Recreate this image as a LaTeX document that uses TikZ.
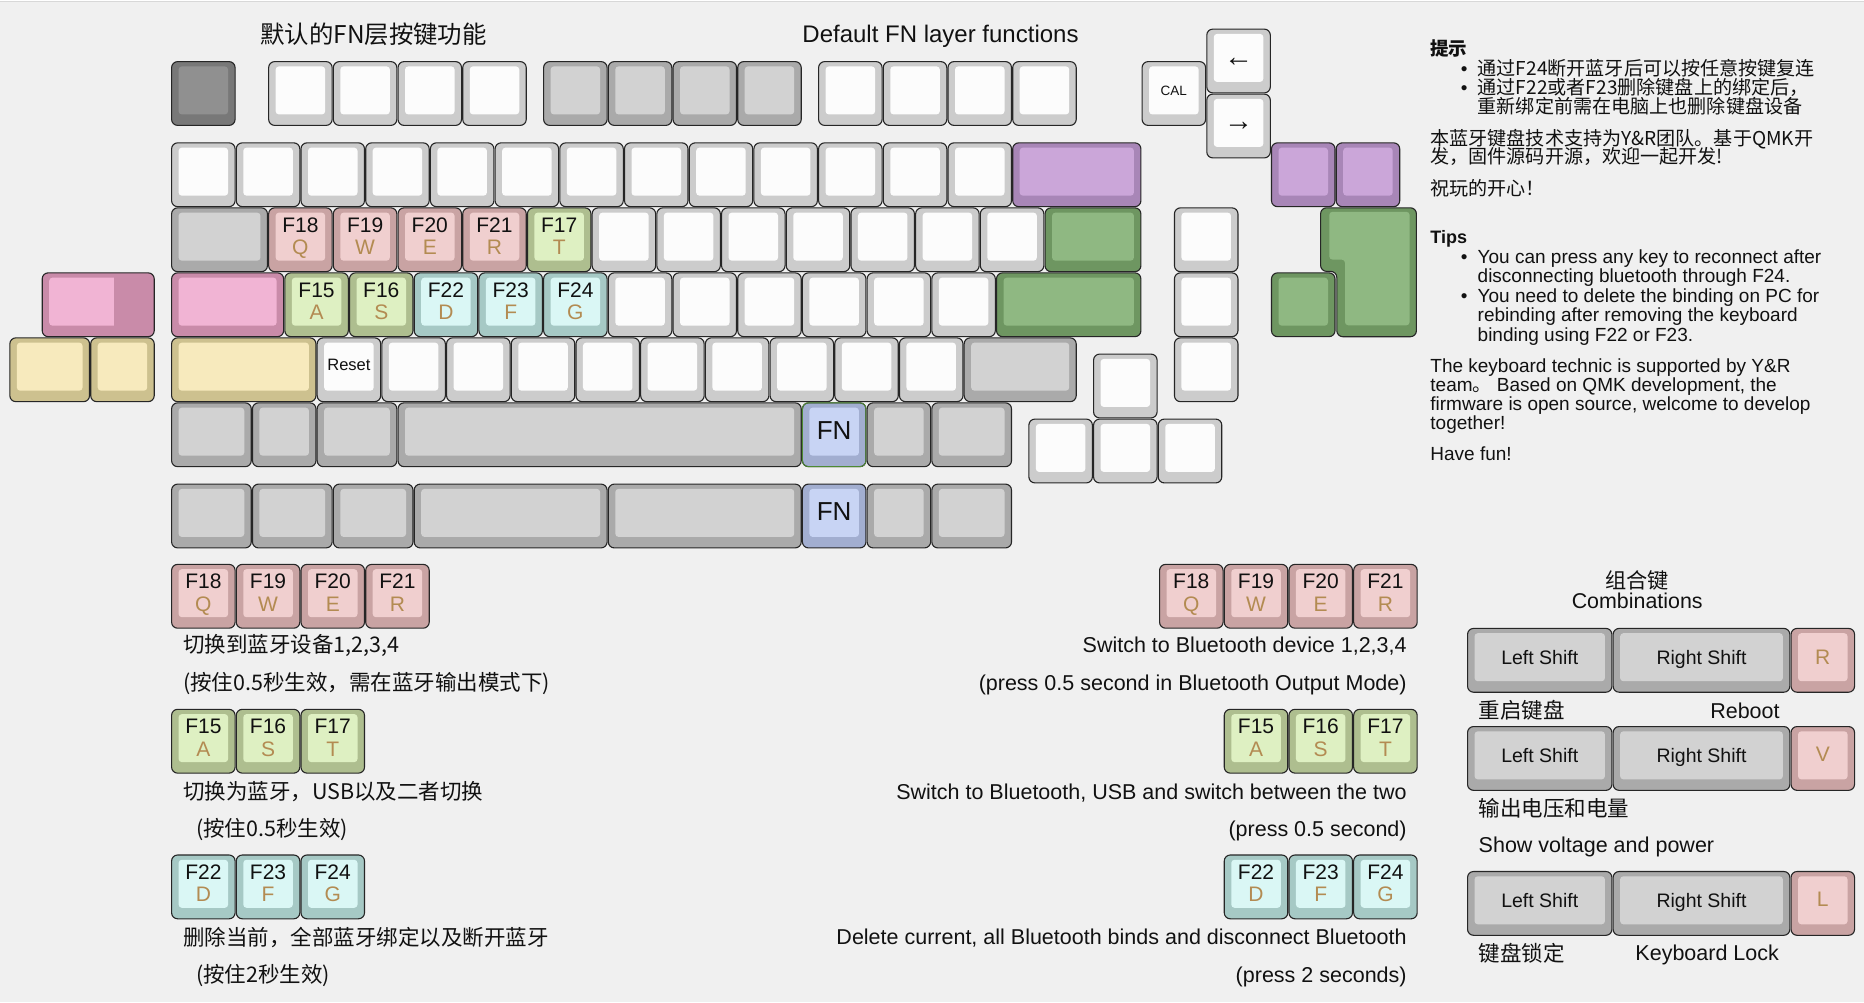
\documentclass[tikz,border=0pt]{standalone}
\usepackage{fontspec}
\setmainfont{Liberation Sans}
\newfontfamily\cjk{Noto Sans CJK SC}
\newcommand{\fsz}[1]{\fontsize{#1pt}{#1pt}\selectfont}
\definecolor{bg}{HTML}{F0F0F0}
\definecolor{topln}{HTML}{D8D8D8}
\definecolor{keyline}{HTML}{262626}
\definecolor{txt}{HTML}{111111}
\definecolor{lgd}{HTML}{B38B52}
\definecolor{wS}{HTML}{CCCCCC}\definecolor{wF}{HTML}{FCFCFC}
\definecolor{gS}{HTML}{AAAAAA}\definecolor{gF}{HTML}{D2D2D2}
\definecolor{dS}{HTML}{787878}\definecolor{dF}{HTML}{909090}
\definecolor{pS}{HTML}{C9A3A3}\definecolor{pF}{HTML}{F0CFCF}
\definecolor{lS}{HTML}{AEBE8F}\definecolor{lF}{HTML}{DEF0C2}
\definecolor{cS}{HTML}{A6C9C5}\definecolor{cF}{HTML}{DAF7F5}
\definecolor{vS}{HTML}{A886B7}\definecolor{vF}{HTML}{CBA6D9}
\definecolor{eS}{HTML}{6E9661}\definecolor{eF}{HTML}{8FB882}
\definecolor{kS}{HTML}{C98BA9}\definecolor{kF}{HTML}{F1B4D4}
\definecolor{yS}{HTML}{CDC18F}\definecolor{yF}{HTML}{F7EABD}
\definecolor{bS}{HTML}{A2AED0}\definecolor{bF}{HTML}{C8D4F4}
\definecolor{fnline}{HTML}{4E8A34}
\tikzset{
  keyouter/.style={draw=keyline, line width=0.55pt, rounded corners=3pt, inner sep=0pt, outer sep=0pt},
  lgtop/.style={anchor=base, inner sep=0pt, text=txt, font={\fsz{10.5}}},
  lgbot/.style={anchor=base, inner sep=0pt, text=lgd, font={\fsz{10.5}}},
  lgfn/.style={anchor=base, inner sep=0pt, text=txt, font={\fsz{13}}},
  lgsmall/.style={anchor=base, inner sep=0pt, text=txt, font={\fsz{6.75}}},
  lgreset/.style={anchor=base, inner sep=0pt, text=txt, font={\fsz{8.25}}},
  lgarrow/.style={anchor=base, inner sep=0pt, text=txt, font={\fsz{14.5}}},
  lgshift/.style={anchor=base, inner sep=0pt, text=txt, font={\fsz{9.75}}},
  lgletter/.style={anchor=base, inner sep=0pt, text=lgd, font={\fsz{10.5}}},
  cjkt/.style={inner sep=0pt, text=txt, font={\cjk\fsz{10.75}}},
  ent/.style={inner sep=0pt, text=txt, font={\fsz{10.75}}},
  note/.style={inner sep=0pt, text=txt, font={\fsz{9.5}}, anchor=base west},
  cnote/.style={inner sep=0pt, text=txt, font={\cjk\fsz{9.55}}, anchor=base west},
  bul/.style={inner sep=0pt, text=txt, font={\fsz{9.5}}, anchor=base},
}
\newcommand{\keyshape}[6]{%
  \pgfmathsetmacro{\kx}{171+(#2)*64.7+0.6}%
  \pgfmathsetmacro{\ky}{61+(#3)*65+0.6}%
  \pgfmathsetmacro{\kw}{(#4)*64.7-1.2}%
  \pgfmathsetmacro{\kh}{(#5)*65-1.2}%
  \pgfmathsetmacro{\kwp}{\kw/2}%
  \pgfmathsetmacro{\khp}{\kh/2}%
  \node[keyouter, fill=#6S, minimum width=\kwp pt, minimum height=\khp pt, anchor=north west] (#1) at (\kx,\ky) {};%
  \fill[#6F, rounded corners=1.6pt] (\kx+7,\ky+4.8) rectangle (\kx+\kw-7,\ky+\kh-11);%
}
\newcommand{\KK}[8]{\keyshape{#1}{#2}{#3}{#4}{#5}{#6}%
  \node[lgtop] (#1-t) at (\kx+\kw/2,\ky+24.2) {#7};%
  \node[lgbot] (#1-b) at (\kx+\kw/2,\ky+46.8) {#8};}
\newcommand{\KC}[9]{\keyshape{#1}{#2}{#3}{#4}{#5}{#6}%
  \node[#8] (#1-t) at (\kx+\kw/2,\ky+#7) {#9};}
\begin{document}
\begin{tikzpicture}[x=0.5pt,y=-0.5pt]
\useasboundingbox (0,0) rectangle (1864,1002);
\fill[bg] (0,0) rectangle (1864,1002);
\fill[white] (0,0) rectangle (1864,1.5);
\draw[topln, line width=0.5pt] (0,1.8) -- (1864,1.8);
% titles
\node[inner sep=0pt, anchor=base, text=txt, font={\cjk\fsz{12.2}}] (title1) at (373.5,43) {默认的FN层按键功能};
\node[inner sep=0pt, anchor=base, text=txt, font={\fsz{12}}] (title2) at (940.5,42) {Default FN layer functions};
% row 0
\keyshape{esc}{0}{0}{1}{1}{d}
\foreach \i [count=\c] in {1.5,2.5,3.5,4.5} {\keyshape{fa\c}{\i}{0}{1}{1}{w}}
\foreach \i [count=\c] in {5.75,6.75,7.75,8.75} {\keyshape{fb\c}{\i}{0}{1}{1}{g}}
\foreach \i [count=\c] in {10,11,12,13} {\keyshape{fc\c}{\i}{0}{1}{1}{w}}
\KC{cal}{15}{0}{1}{1}{w}{33.4}{lgsmall}{CAL}
\KC{larr}{16}{-0.5}{1}{1}{w}{37}{lgarrow}{←}
\KC{rarr}{16}{0.5}{1}{1}{w}{36.5}{lgarrow}{→}
% row 1
\foreach \i in {0,...,12} {\keyshape{num\i}{\i}{1.25}{1}{1}{w}}
\keyshape{bksp}{13}{1.25}{2}{1}{v}
\keyshape{pa}{17}{1.25}{1}{1}{v}
\keyshape{pb}{18}{1.25}{1}{1}{v}
% row 2
\keyshape{tab}{0}{2.25}{1.5}{1}{g}
\KK{kq}{1.5}{2.25}{1}{1}{p}{F18}{Q}
\KK{kw}{2.5}{2.25}{1}{1}{p}{F19}{W}
\KK{ke}{3.5}{2.25}{1}{1}{p}{F20}{E}
\KK{kr}{4.5}{2.25}{1}{1}{p}{F21}{R}
\KK{kt}{5.5}{2.25}{1}{1}{l}{F17}{T}
\foreach \i [count=\c] in {6.5,7.5,8.5,9.5,10.5,11.5,12.5} {\keyshape{qr\c}{\i}{2.25}{1}{1}{w}}
\keyshape{bsl}{13.5}{2.25}{1.5}{1}{e}
\keyshape{nava}{15.5}{2.25}{1}{1}{w}
% big L-shaped key
\draw[fill=eS, draw=keyline, line width=0.55pt, rounded corners=3pt]
  (1320.6,207.8) -- (1416.4,207.8) -- (1416.4,336.7) -- (1336.8,336.7) -- (1336.8,271.4) -- (1320.6,271.4) -- cycle;
\fill[eF, rounded corners=1.6pt]
  (1329.3,211.8) -- (1409.6,211.8) -- (1409.6,325.3) -- (1345,325.3) -- (1345,259.6) -- (1329.3,259.6) -- cycle;
\coordinate (isoenter) at (1368,272);
% row 3
\keyshape{caps}{0}{3.25}{1.75}{1}{k}
\keyshape{capsx}{-2}{3.25}{1.75}{1}{k}
\fill[kS] (\kx+72,\ky+4.3) rectangle (\kx+\kw-6.5,\ky+\kh-10.5);
\KK{ka}{1.75}{3.25}{1}{1}{l}{F15}{A}
\KK{ks}{2.75}{3.25}{1}{1}{l}{F16}{S}
\KK{kd}{3.75}{3.25}{1}{1}{c}{F22}{D}
\KK{kf}{4.75}{3.25}{1}{1}{c}{F23}{F}
\KK{kg}{5.75}{3.25}{1}{1}{c}{F24}{G}
\foreach \i [count=\c] in {6.75,7.75,8.75,9.75,10.75,11.75} {\keyshape{ar\c}{\i}{3.25}{1}{1}{w}}
\keyshape{ent}{12.75}{3.25}{2.25}{1}{e}
\keyshape{navb}{15.5}{3.25}{1}{1}{w}
\keyshape{ga}{17}{3.25}{1}{1}{e}
% row 4
\keyshape{lsh}{0}{4.25}{2.25}{1}{y}
\keyshape{ya}{-2.5}{4.25}{1.25}{1}{y}
\keyshape{yb}{-1.25}{4.25}{1}{1}{y}
\KC{reset}{2.25}{4.25}{1}{1}{w}{32.2}{lgreset}{Reset}
\foreach \i [count=\c] in {3.25,4.25,5.25,6.25,7.25,8.25,9.25,10.25,11.25} {\keyshape{zr\c}{\i}{4.25}{1}{1}{w}}
\keyshape{rsh}{12.25}{4.25}{1.75}{1}{g}
\keyshape{up}{14.25}{4.5}{1}{1}{w}
\keyshape{navc}{15.5}{4.25}{1}{1}{w}
% row 5
\keyshape{m1}{0}{5.25}{1.25}{1}{g}
\keyshape{m2}{1.25}{5.25}{1}{1}{g}
\keyshape{m3}{2.25}{5.25}{1.25}{1}{g}
\keyshape{spc}{3.5}{5.25}{6.25}{1}{g}
\KC{fna}{9.75}{5.25}{1}{1}{b}{36.8}{lgfn}{FN}
\draw[fnline, line width=0.45pt, rounded corners=3pt] (fna.north west) rectangle (fna.south east);
\keyshape{m5}{10.75}{5.25}{1}{1}{g}
\keyshape{m6}{11.75}{5.25}{1.25}{1}{g}
\keyshape{arl}{13.25}{5.5}{1}{1}{w}
\keyshape{ard}{14.25}{5.5}{1}{1}{w}
\keyshape{arr}{15.25}{5.5}{1}{1}{w}
% row 6.5
\keyshape{b1}{0}{6.5}{1.25}{1}{g}
\keyshape{b2}{1.25}{6.5}{1.25}{1}{g}
\keyshape{b3}{2.5}{6.5}{1.25}{1}{g}
\keyshape{b4}{3.75}{6.5}{3}{1}{g}
\keyshape{b5}{6.75}{6.5}{3}{1}{g}
\KC{fnb}{9.75}{6.5}{1}{1}{b}{36.3}{lgfn}{FN}
\keyshape{b6}{10.75}{6.5}{1}{1}{g}
\keyshape{b7}{11.75}{6.5}{1.25}{1}{g}
% bottom-left legend
\KK{la1}{0}{7.735}{1}{1}{p}{F18}{Q}
\KK{la2}{1}{7.735}{1}{1}{p}{F19}{W}
\KK{la3}{2}{7.735}{1}{1}{p}{F20}{E}
\KK{la4}{3}{7.735}{1}{1}{p}{F21}{R}
\KK{lb1}{0}{9.965}{1}{1}{l}{F15}{A}
\KK{lb2}{1}{9.965}{1}{1}{l}{F16}{S}
\KK{lb3}{2}{9.965}{1}{1}{l}{F17}{T}
\KK{lc1}{0}{12.206}{1}{1}{c}{F22}{D}
\KK{lc2}{1}{12.206}{1}{1}{c}{F23}{F}
\KK{lc3}{2}{12.206}{1}{1}{c}{F24}{G}
\node[cjkt, anchor=base west] (d1) at (182.7,652.5) {切换到蓝牙设备1,2,3,4};
\node[cjkt, anchor=base west] (d2) at (182.7,690.5) {(按住0.5秒生效，需在蓝牙输出模式下)};
\node[cjkt, anchor=base west] (d3) at (182.7,799) {切换为蓝牙，USB以及二者切换};
\node[cjkt, anchor=base west] (d4) at (195.7,836) {(按住0.5秒生效)};
\node[cjkt, anchor=base west] (d5) at (182.7,945) {删除当前，全部蓝牙绑定以及断开蓝牙};
\node[cjkt, anchor=base west] (d6) at (195.7,982) {(按住2秒生效)};
% bottom-right legend
\KK{ra1}{15.27}{7.735}{1}{1}{p}{F18}{Q}
\KK{ra2}{16.27}{7.735}{1}{1}{p}{F19}{W}
\KK{ra3}{17.27}{7.735}{1}{1}{p}{F20}{E}
\KK{ra4}{18.27}{7.735}{1}{1}{p}{F21}{R}
\KK{rb1}{16.27}{9.965}{1}{1}{l}{F15}{A}
\KK{rb2}{17.27}{9.965}{1}{1}{l}{F16}{S}
\KK{rb3}{18.27}{9.965}{1}{1}{l}{F17}{T}
\KK{rc1}{16.27}{12.206}{1}{1}{c}{F22}{D}
\KK{rc2}{17.27}{12.206}{1}{1}{c}{F23}{F}
\KK{rc3}{18.27}{12.206}{1}{1}{c}{F24}{G}
\node[ent, anchor=base east] (e1) at (1407,652.8) {Switch to Bluetooth device 1,2,3,4};
\node[ent, anchor=base east] (e2) at (1407,690) {(press 0.5 second in Bluetooth Output Mode)};
\node[ent, anchor=base east] (e3) at (1407,799) {Switch to Bluetooth, USB and switch between the two};
\node[ent, anchor=base east] (e4) at (1407,836) {(press 0.5 second)};
\node[ent, anchor=base east] (e5) at (1407,944) {Delete current, all Bluetooth binds and disconnect Bluetooth};
\node[ent, anchor=base east] (e6) at (1407,982) {(press 2 seconds)};
% combinations
\node[inner sep=0pt, anchor=base, text=txt, font={\cjk\fsz{10.6}}] (comb1) at (1637.2,588.5) {组合键};
\node[inner sep=0pt, anchor=base, text=txt, font={\fsz{10.7}}] (comb2) at (1637.2,608.6) {Combinations};
\KC{ls1}{20.03}{8.72}{2.25}{1}{g}{36.4}{lgshift}{Left Shift}
\KC{rs1}{22.28}{8.72}{2.75}{1}{g}{36.4}{lgshift}{Right Shift}
\KC{cr}{25.03}{8.72}{1}{1}{p}{35.6}{lgletter}{R}
\KC{ls2}{20.03}{10.23}{2.25}{1}{g}{36.4}{lgshift}{Left Shift}
\KC{rs2}{22.28}{10.23}{2.75}{1}{g}{36.4}{lgshift}{Right Shift}
\KC{cv}{25.03}{10.23}{1}{1}{p}{35.2}{lgletter}{V}
\KC{ls3}{20.03}{12.46}{2.25}{1}{g}{36.4}{lgshift}{Left Shift}
\KC{rs3}{22.28}{12.46}{2.75}{1}{g}{36.4}{lgshift}{Right Shift}
\KC{cl}{25.03}{12.46}{1}{1}{p}{35.2}{lgletter}{L}
\node[cjkt, anchor=base west] (c1) at (1478.3,718.5) {重启键盘};
\node[ent, anchor=base east] (c2) at (1780,718) {Reboot};
\node[cjkt, anchor=base west] (c3) at (1478.3,816.5) {输出电压和电量};
\node[ent, anchor=base west] (c4) at (1478.3,852) {Show voltage and power};
\node[cjkt, anchor=base west] (c5) at (1478.3,961.5) {键盘锁定};
\node[ent, anchor=base east] (c6) at (1779.3,960.5) {Keyboard Lock};
% notes
\node[cnote, font={\cjk\bfseries\fsz{9.25}}] (n0) at (1430,55) {提示};
\node[bul] (nb1) at (1464.2,75) {•};
\node[cnote] (n1) at (1477.3,75) {通过F24断开蓝牙后可以按任意按键复连};
\node[bul] (nb2) at (1464.2,94.3) {•};
\node[cnote] (n2) at (1477.3,94.3) {通过F22或者F23删除键盘上的绑定后，};
\node[cnote] (n3) at (1477.3,113.6) {重新绑定前需在电脑上也删除键盘设备};
\node[cnote] (n4) at (1430,145) {本蓝牙键盘技术支持为Y\&R团队。基于QMK开};
\node[cnote] (n5) at (1430,163.8) {发，固件源码开源，欢迎一起开发!};
\node[cnote] (n6) at (1430,195) {祝玩的开心！};
\node[note, font={\bfseries\fsz{9}}] (t0) at (1430,243) {Tips};
\node[bul] (tb1) at (1464.2,263.6) {•};
\node[note] (t1) at (1477.3,263.6) {You can press any key to reconnect after};
\node[note] (t2) at (1477.3,282.6) {disconnecting bluetooth through F24.};
\node[bul] (tb2) at (1464.2,302) {•};
\node[note] (t3) at (1477.3,302) {You need to delete the binding on PC for};
\node[note] (t4) at (1477.3,321.5) {rebinding after removing the keyboard};
\node[note] (t5) at (1477.3,341) {binding using F22 or F23.};
\node[note] (t6) at (1430,372) {The keyboard technic is supported by Y\&R};
\node[note] (t7) at (1430,391.2) {team{\cjk 。}\ Based on QMK development, the};
\node[note] (t8) at (1430,410.4) {firmware is open source, welcome to develop};
\node[note] (t9) at (1430,429.6) {together!};
\node[note] (t10) at (1430,460.5) {Have fun!};
\end{tikzpicture}
\end{document}
